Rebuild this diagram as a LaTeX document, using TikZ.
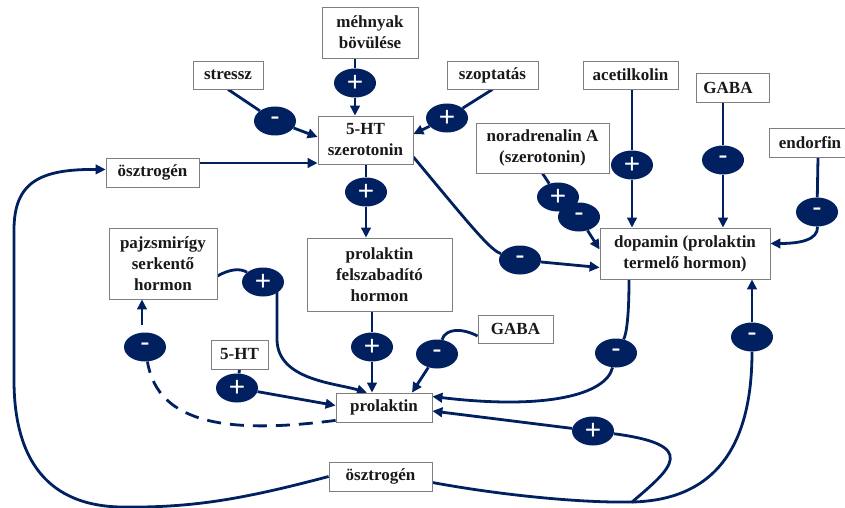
\documentclass[tikz,border=0pt]{standalone}
\usepackage{fontspec}
\setmainfont{Liberation Serif}
\newfontfamily\symfnt{Liberation Sans}
\usetikzlibrary{arrows.meta,shapes.geometric,calc}
\definecolor{navy}{HTML}{002060}
\definecolor{boxgray}{HTML}{7F7F7F}
\pgfdeclarelayer{bg}
\pgfsetlayers{bg,main}
\tikzset{
  box/.style={draw=boxgray, line width=0.8pt, fill=white, font=\fontsize{17}{21}\selectfont\bfseries, text=black!90, align=center, inner sep=0pt},
  sgn/.style={ellipse, fill=navy, minimum width=42pt, minimum height=29pt, inner sep=0pt, text=white, font=\symfnt\fontsize{28}{28}\selectfont},
  conn/.style={navy, line width=2.8pt},
  arr/.style={conn, -{Triangle[length=10pt,width=9.5pt]}},
  dsh/.style={conn, dash pattern=on 14pt off 9pt},
}
\begin{document}
\begin{tikzpicture}[x=1pt,y=-1pt]
\useasboundingbox (0,0) rectangle (845,508);
% boxes
\node[box, minimum width=96pt, minimum height=51pt] (mehnyak) at (370,32.5) {méhnyak\\bövülése};
\node[box, minimum width=70pt, minimum height=28pt] (stressz) at (228,75) {stressz};
\node[box, minimum width=91pt, minimum height=28pt] (szopt) at (492.5,75) {szoptatás};
\node[box, minimum width=95pt, minimum height=48pt] (ht) at (365.5,140) {5-HT\\szerotonin};
\node[box, minimum width=133pt, minimum height=50pt] (noradr) at (542.5,148) {noradrenalin A\\(szerotonin)};
\node[box, minimum width=95pt, minimum height=28pt] (acetil) at (630.5,75) {acetilkolin};
\node[box, minimum width=73pt, minimum height=29pt] (gaba1) at (732.5,87.5) {GABA\hspace*{9pt}};
\node[box, minimum width=82pt, minimum height=29pt] (endorfin) at (810,142.5) {endorfin};
\node[box, minimum width=170pt, minimum height=51pt] (dopamin) at (685,253.5) {dopamin (prolaktin\\termelő hormon)};
\node[box, minimum width=93pt, minimum height=29pt] (estr1) at (152.5,172.5) {ösztrogén};
\node[box, minimum width=108pt, minimum height=71pt] (pajzs) at (163,263.5) {pajzsmirígy\\serkentő\\hormon};
\node[box, minimum width=145pt, minimum height=73pt] (prh) at (379.5,274.5) {prolaktin\\felszabadító\\hormon};
\node[box, minimum width=57pt, minimum height=29pt] (ht2) at (239.5,354.5) {5-HT};
\node[box, minimum width=96pt, minimum height=29pt] (prol) at (384,407.5) {prolaktin};
\node[box, minimum width=75pt, minimum height=28pt] (gaba2) at (515.5,329) {GABA};
\node[box, minimum width=103pt, minimum height=29pt] (estr2) at (380.5,476.5) {ösztrogén};
% signs
\node[sgn] (em) at (355,83) {+};
\node[sgn] (es) at (275,121) {-};
\node[sgn] (ez) at (447,118) {+};
\node[sgn] (e5) at (366,192) {+};
\node[sgn] (e7a) at (558,197) {+};
\node[sgn] (e7b) at (579,217) {-};
\node[sgn] (e8) at (632,165) {+};
\node[sgn] (e9) at (723,160) {-};
\node[sgn] (e10) at (817,212) {-};
\node[sgn] (e6) at (520,260) {-};
\node[sgn] (e14) at (263,282) {+};
\node[sgn] (e11) at (372,347) {+};
\node[sgn] (e12) at (437,354) {-};
\node[sgn] (e16) at (616,353) {-};
\node[sgn] (e18) at (752,337) {-};
\node[sgn] (e17) at (593,431) {+};
\node[sgn] (e13) at (237,388) {+};
\node[sgn] (e15) at (145,347) {-};
\coordinate (split) at (632,502);
\coordinate (p4) at ([yshift=9.5pt]estr1.east);
\begin{pgfonlayer}{bg}
\fill[white] (0,0) rectangle (845,508);
% top inputs to 5-HT
\draw[conn] (em |- mehnyak.south) -- (em);
\draw[arr] (em) -- (em |- ht.north);
\draw[conn] (stressz.south) -- (es);
\draw[arr] (es) -- ([yshift=3pt]ht.west);
\draw[conn] (szopt.south) -- (ez);
\draw[arr] (ez) -- ([yshift=6pt]ht.east);
\draw[arr] (p4) -- (p4 -| ht.west);
% 5-HT to PRH
\draw[conn] (e5 |- ht.south) -- (e5);
\draw[arr] (e5) -- (e5 |- prh.north);
% 5-HT to dopamin
\draw[conn] ([yshift=-17pt]ht.east) .. controls (470,225) and (490,250) .. (e6);
\draw[arr] (e6) -- ([yshift=-14pt]dopamin.west);
% noradrenalin
\draw[conn] (noradr.south) -- (e7a);
\draw[arr] (e7b) -- ([yshift=4pt]dopamin.west);
% acetilkolin, GABA, endorfin
\draw[conn] (e8 |- acetil.south) -- (e8);
\draw[arr] (e8) -- (e8 |- dopamin.north);
\draw[conn] (e9 |- gaba1.south) -- (e9);
\draw[arr] (e9) -- (e9 |- dopamin.north);
\draw[conn] ([xshift=8pt]endorfin.south) -- (e10);
\draw[arr] (e10) .. controls (818,240) and (800,243.5) .. ([yshift=10pt]dopamin.east);
% PRH to prolaktin
\draw[conn] (e11 |- prh.south) -- (e11);
\draw[arr] (e11) -- (e11 |- prol.north);
% GABA lower
\draw[conn] ([yshift=-7pt]gaba2.west) .. controls (462,328) and (446,328) .. (e12);
\draw[arr] (e12) -- ([xshift=28pt]prol.north);
% 5-HT lower
\draw[conn] (ht2.south) -- (e13);
\draw[arr] (e13) -- ([yshift=2pt]prol.west);
% pajzsmirigy to prolaktin
\draw[conn] ([yshift=-12.5pt]pajzs.east) .. controls (230,269) and (240,268) .. (e14);
\draw[arr] ([xshift=14pt,yshift=-8pt]e14.center) -- (277,340) .. controls (278,380) and (335,383) .. ([xshift=-17pt]prol.north);
% dashed feedback
\draw[dsh] ([yshift=2pt]prol.south west) .. controls (230,434) and (158,425) .. (e15);
\draw[arr] ([xshift=-3pt,yshift=22pt]e15.center) -- ([xshift=-3pt]e15.center |- pajzs.south);
% dopamin to prolaktin
\draw[conn] ([xshift=-56pt]dopamin.south) .. controls (629,320) and (626,335) .. (e16);
\draw[arr] (e16) .. controls (606,395) and (545,410) .. ([yshift=11pt]prol.east);
% estrogen bottom
\draw[conn] ([yshift=-6pt]estr2.east) .. controls (500,495) and (580,503) .. (split) .. controls (672,468) and (700,445) .. (e17);
\draw[arr] (e17) -- ([yshift=-3.5pt]prol.east);
\draw[conn] (split) .. controls (720,500) and (752,440) .. (e18);
\draw[arr] (e18) -- (e18 |- dopamin.south);
\draw[arr] (estr2.west) .. controls (240,500) and (190,508) .. (120,507) .. controls (40,505) and (14,450) .. (14,380) -- (14,230) .. controls (14,182) and (40,169) .. ([yshift=3pt]estr1.west);
\end{pgfonlayer}
\end{tikzpicture}
\end{document}
